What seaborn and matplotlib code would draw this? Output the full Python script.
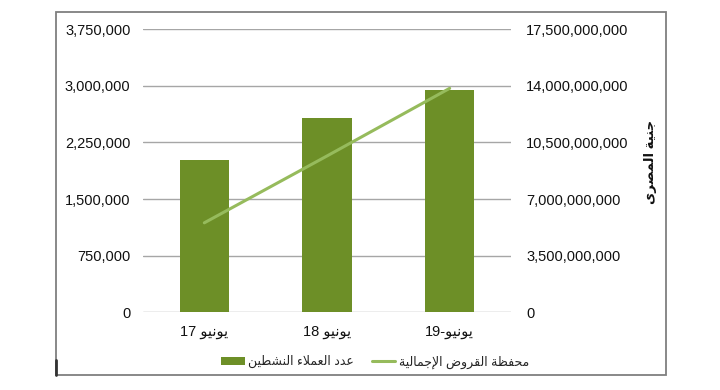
import re
import matplotlib
matplotlib.use("Agg")
import matplotlib.pyplot as plt
from matplotlib.patches import Rectangle, Patch
from matplotlib.lines import Line2D
from matplotlib.ticker import FuncFormatter, FixedLocator
import seaborn as sns
import pandas as pd

# ---------------- data ----------------
categories = ["يونيو 17", "يونيو 18", "يونيو-19"]
active_clients = [2016000, 2569000, 2943000]
loan_portfolio = [5.53e9, 9.66e9, 13.84e9]
left_ticks = [0, 750000, 1500000, 2250000, 3000000, 3750000]
right_ticks = [0, 3.5e9, 7.0e9, 10.5e9, 14.0e9, 17.5e9]
bar_label = "عدد العملاء النشطين"
line_label = "محفظة القروض الإجمالية"
right_axis_label = "جنية المصرى"

# ------------- simple Arabic shaping (presentation forms + visual order) -------------
DUAL = {0x0628: 0xFE8F, 0x062A: 0xFE95, 0x062B: 0xFE99, 0x062C: 0xFE9D, 0x062D: 0xFEA1,
        0x062E: 0xFEA5, 0x0633: 0xFEB1, 0x0634: 0xFEB5, 0x0635: 0xFEB9, 0x0636: 0xFEBD,
        0x0637: 0xFEC1, 0x0638: 0xFEC5, 0x0639: 0xFEC9, 0x063A: 0xFECD, 0x0641: 0xFED1,
        0x0642: 0xFED5, 0x0643: 0xFED9, 0x0644: 0xFEDD, 0x0645: 0xFEE1, 0x0646: 0xFEE5,
        0x0647: 0xFEE9, 0x064A: 0xFEF1}
RIGHT = {0x0622: 0xFE81, 0x0623: 0xFE83, 0x0624: 0xFE85, 0x0625: 0xFE87, 0x0627: 0xFE8D,
         0x0629: 0xFE93, 0x062F: 0xFEA9, 0x0630: 0xFEAB, 0x0631: 0xFEAD, 0x0632: 0xFEAF,
         0x0648: 0xFEED, 0x0649: 0xFEEF}
NONJOIN = {0x0621: 0xFE80}
LAMALEF = {0x0622: 0xFEF5, 0x0623: 0xFEF7, 0x0625: 0xFEF9, 0x0627: 0xFEFB}


def shape(s):
    toks = []
    i = 0
    while i < len(s):
        c = ord(s[i])
        if c == 0x0644 and i + 1 < len(s) and ord(s[i + 1]) in LAMALEF:
            toks.append(("R", LAMALEF[ord(s[i + 1])]))
            i += 2
            continue
        if c in DUAL:
            toks.append(("D", DUAL[c]))
        elif c in RIGHT:
            toks.append(("R", RIGHT[c]))
        elif c in NONJOIN:
            toks.append(("U", NONJOIN[c]))
        else:
            toks.append(("X", s[i]))
        i += 1
    out = []
    for k, (t, b) in enumerate(toks):
        if t == "X":
            out.append(b)
            continue
        if t == "U":
            out.append(chr(b))
            continue
        prev = toks[k - 1][0] if k > 0 else None
        nxt = toks[k + 1][0] if k + 1 < len(toks) else None
        jp = prev == "D"
        jn = t == "D" and nxt in ("D", "R")
        if jp and jn:
            f = b + 3
        elif jp:
            f = b + 1
        elif jn:
            f = b + 2
        else:
            f = b
        out.append(chr(f))
    return "".join(out)


def ar(s):
    v = shape(s)[::-1]
    return re.sub(r"[0-9][0-9,\.]*", lambda m: m.group(0)[::-1], v)


# ---------------- style ----------------
sns.set_theme(style="white")
plt.rcParams["font.family"] = ["Liberation Sans", "DejaVu Sans"]

BAR_COLOR = "#6d8f27"
LINE_COLOR = "#96bb5c"
GRID_COLOR = "#a6a6a6"

fig = plt.figure(figsize=(7.2, 3.9), dpi=100)
ax = fig.add_axes([0.1986, 0.1992, 0.5111, 0.7262])

df = pd.DataFrame({"cat": [ar(c) for c in categories], "clients": active_clients,
                   "portfolio": loan_portfolio})

sns.barplot(data=df, x="cat", y="clients", ax=ax, color=BAR_COLOR, saturation=1,
            width=0.4, linewidth=0, edgecolor="none", zorder=3)
ax.set_xlim(-0.5, 2.5)
ax.set_ylim(0, 3750000)
ax.yaxis.set_major_locator(FixedLocator(left_ticks))
ax.yaxis.set_major_formatter(FuncFormatter(lambda v, p: f"{v:,.0f}"))
ax.grid(axis="y", color=GRID_COLOR, linewidth=1.0, zorder=0)
ax.set_axisbelow(True)
for s in ax.spines.values():
    s.set_visible(False)
ax.set_xlabel("")
ax.set_ylabel("")
ax.tick_params(axis="y", length=0, pad=9, labelsize=10.5, labelcolor="#111111")
ax.tick_params(axis="x", length=0, pad=9, labelsize=10.5, labelcolor="#111111")

ax2 = ax.twinx()
sns.lineplot(data=df, x="cat", y="portfolio", ax=ax2, color=LINE_COLOR, linewidth=2.2,
             sort=False, zorder=4)
ax2.set_ylim(0, 17.5e9)
ax2.yaxis.set_major_locator(FixedLocator(right_ticks))
ax2.yaxis.set_major_formatter(FuncFormatter(lambda v, p: f"{v:,.0f}"))
for s in ax2.spines.values():
    s.set_visible(False)
ax2.set_xlabel("")
ax2.set_ylabel(ar(right_axis_label), fontsize=9.5, fontweight="bold", rotation=90,
               labelpad=11, color="#111111")
ax2.yaxis.set_label_coords(1.362, 0.53)
ax2.tick_params(axis="y", length=0, pad=11, labelsize=10.5, labelcolor="#111111")
ax2.grid(False)

handles = [Patch(facecolor=BAR_COLOR, edgecolor="none"),
           Line2D([0], [0], color=LINE_COLOR, linewidth=2.2)]
fig.legend(handles, [ar(bar_label), ar(line_label)], loc="center",
           bbox_to_anchor=(0.521, 0.072), ncol=2, frameon=False, fontsize=9,
           handlelength=1.9, handleheight=0.6, columnspacing=1.4, handletextpad=0.3)

# outer chart frame
fig.add_artist(Rectangle((0.0774, 0.0385), 0.8472, 0.9315, transform=fig.transFigure,
                         fill=False, edgecolor="#7f7f7f", linewidth=1.3))
fig.add_artist(Line2D([0.0774, 0.0774], [0.0385, 0.077], transform=fig.transFigure,
                      color="#333333", linewidth=2))

fig.savefig("out.png", dpi=100)
